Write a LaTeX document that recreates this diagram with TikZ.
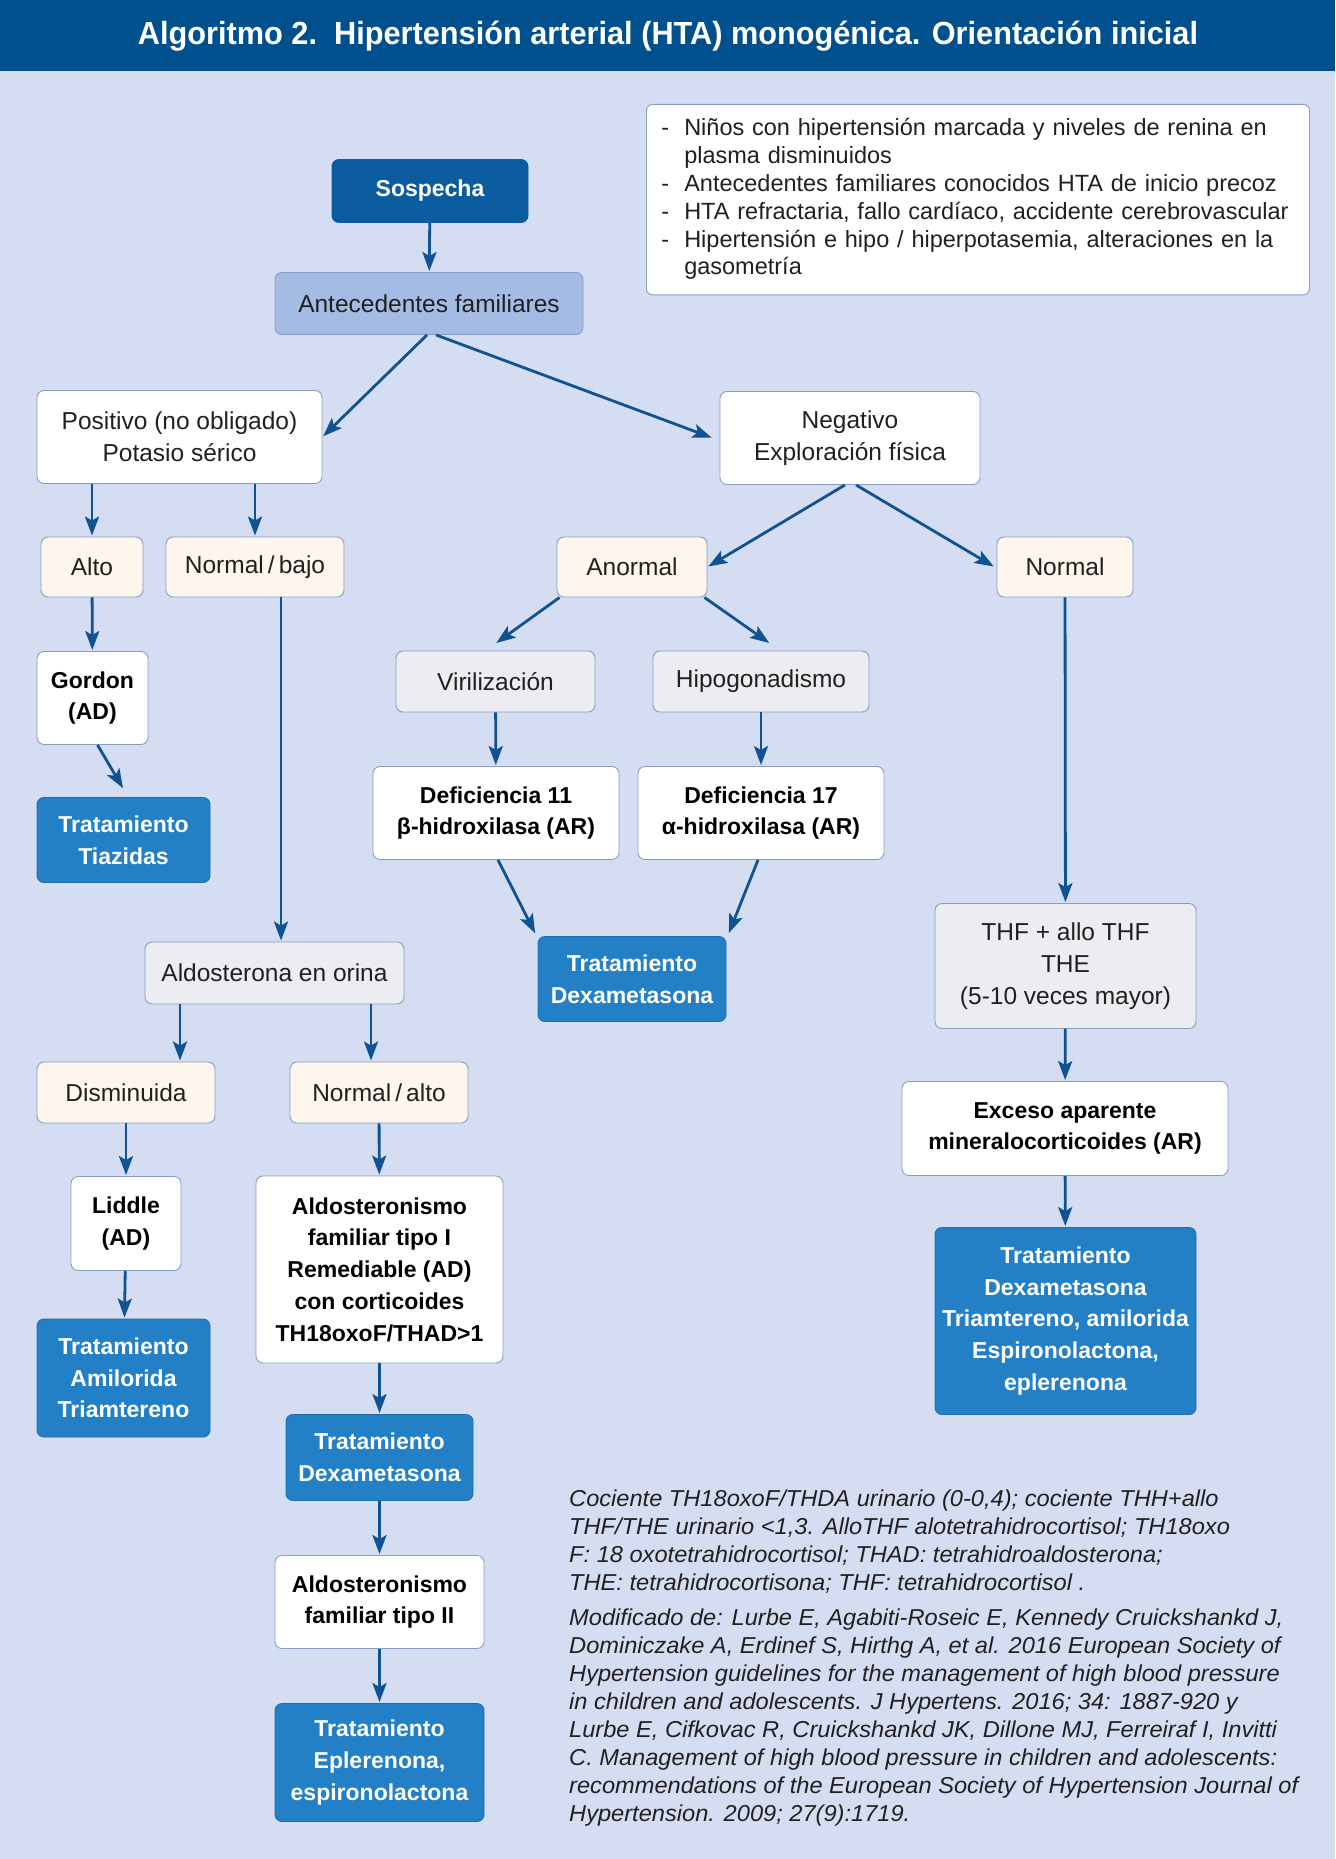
\documentclass[tikz,border=0pt]{standalone}
\usepackage{fontspec}
\setmainfont{Liberation Sans}
\usetikzlibrary{arrows.meta}
\definecolor{headc}{HTML}{00508E}
\definecolor{bgc}{HTML}{D4DDF1}
\definecolor{sospc}{HTML}{0B5C9E}
\definecolor{antc}{HTML}{A4BCE4}
\definecolor{treatc}{HTML}{2380C6}
\definecolor{creamc}{HTML}{FDF6EC}
\definecolor{greyc}{HTML}{ECEDF0}
\definecolor{bordc}{HTML}{8A9CC4}
\definecolor{arrc}{HTML}{0F5393}
\definecolor{txtc}{HTML}{231F20}
\tikzset{sz/.style 2 args={minimum width=#1pt,minimum height=#2pt}}

\begin{document}
\begin{tikzpicture}[x=1pt,y=-1pt,shorten >=1pt,
		box/.style={draw=bordc,line width=0.9pt,rounded corners=7pt,align=center,inner sep=0pt,
			text=txtc,font=\fontsize{24.5}{32}\selectfont},
		wbox/.style={box,fill=white},
		bbox/.style={box,fill=white,text=black,font=\fontsize{23}{31.7}\selectfont\bfseries},
		cream/.style={box,fill=creamc},
		grey/.style={box,fill=greyc},
		treat/.style={box,fill=treatc,draw=treatc!85!black,text=white,font=\fontsize{23}{31.7}\selectfont\bfseries},
		arr/.style={-{Stealth[length=19pt,width=14pt,inset=4pt]},draw=arrc,line width=2.8pt}]
	\useasboundingbox (0,0) rectangle (1335,1859);
	% background and title
	\fill[bgc] (0,71) rectangle (1335,1859);
	\fill[headc] (0,0) rectangle (1335,71);
	\node[text=white,inner sep=0pt] (n_title) at (668,36)
		{\resizebox{1060pt}{\height}{\fontsize{32}{32}\selectfont\bfseries Algoritmo 2.\ \ Hipertensión arterial (HTA) monogénica. Orientación inicial}};
	% criteria
	\node[wbox,anchor=north west,rounded corners=6pt,text width=633pt,align=left,inner xsep=15pt,inner ysep=11.5pt,
		font=\fontsize{23.5}{27.9}\selectfont] (n_info) at (646,104)
		{\begin{tabular}{@{}l@{\hspace{15pt}}l@{}}
			- & Niños con hipertensión marcada y niveles de renina en\\
			  & plasma disminuidos\\
			- & Antecedentes familiares conocidos HTA de inicio precoz\\
			- & HTA refractaria, fallo cardíaco, accidente cerebrovascular\\
			- & Hipertensión e hipo / hiperpotasemia, alteraciones en la\\
			  & gasometría
		\end{tabular}};
	% nodes
	\node[treat,sz={196}{63},fill=sospc,draw=sospc] (n_sosp) at (430,191) {Sospecha};
	\node[box,sz={308}{62},fill=antc] (n_ant) at (429,303.5) {Antecedentes familiares};
	\node[wbox,sz={285}{93}] (n_pos) at (179.5,437) {Positivo (no obligado)\\Potasio sérico};
	\node[wbox,sz={260}{93}] (n_neg) at (850,438) {Negativo\\Exploración física};
	\node[cream,sz={102}{60}] (n_alto) at (92,567) {Alto};
	\node[cream,sz={178}{60}] (n_nbajo) at (255,567) {Normal\,/\,bajo};
	\node[cream,sz={150}{60}] (n_anorm) at (632,567) {Anormal};
	\node[cream,sz={136}{60}] (n_normal) at (1065,567) {Normal};
	\node[bbox,sz={111}{93}] (n_gordon) at (92.5,698) {Gordon\\(AD)};
	\node[treat,sz={173}{85}] (n_tiaz) at (123.5,840) {Tratamiento\\Tiazidas};
	\node[grey,sz={199}{61}] (n_viril) at (495.5,681.5) {Virilización};
	\node[grey,sz={216}{61}] (n_hipo) at (761,681.5) {Hipogonadismo};
	\node[bbox,sz={246}{93}] (n_def11) at (496,813) {Deficiencia 11\\β-hidroxilasa (AR)};
	\node[bbox,sz={246}{93}] (n_def17) at (761,813) {Deficiencia 17\\α-hidroxilasa (AR)};
	\node[treat,sz={188}{85}] (n_dexa1) at (632,979) {Tratamiento\\Dexametasona};
	\node[grey,sz={259}{62}] (n_aldo) at (274.5,973) {Aldosterona en orina};
	\node[cream,sz={178}{61}] (n_dism) at (126,1092.5) {Disminuida};
	\node[cream,sz={178}{61}] (n_nalto) at (379,1092.5) {Normal\,/\,alto};
	\node[bbox,sz={110}{94}] (n_liddle) at (126,1223.5) {Liddle\\(AD)};
	\node[treat,sz={173}{118}] (n_amil) at (123.5,1378) {Tratamiento\\Amilorida\\Triamtereno};
	\node[bbox,sz={247}{187}] (n_fam1) at (379.5,1269.5)
		{Aldosteronismo\\familiar tipo I\\Remediable (AD)\\con corticoides\\TH18oxoF/THAD>1};
	\node[treat,sz={187}{86}] (n_dexa2) at (379.5,1457.5) {Tratamiento\\Dexametasona};
	\node[bbox,sz={209}{93}] (n_fam2) at (379.5,1602) {Aldosteronismo\\familiar tipo II};
	\node[treat,sz={209}{118}] (n_eple) at (379.5,1762.5) {Tratamiento\\Eplerenona,\\espironolactona};
	\node[grey,sz={261}{125}] (n_thf) at (1065.5,966) {THF + allo THF\\THE\\(5-10 veces mayor)};
	\node[bbox,sz={326}{94}] (n_exceso) at (1065,1128.5) {Exceso aparente\\mineralocorticoides (AR)};
	\node[treat,sz={261}{187}] (n_dexa3) at (1065.5,1321)
		{Tratamiento\\Dexametasona\\Triamtereno, amilorida\\Espironolactona,\\eplerenona};
	% notes
	\node[anchor=north west,inner sep=0pt,text=txtc] (n_nota) at (569,1487)
		{\resizebox{729pt}{\height}{\fontsize{23}{27.9}\selectfont\itshape
		\begin{tabular}{@{}l@{}}
			Cociente TH18oxoF/THDA urinario (0-0,4); cociente THH+allo\\
			THF/THE urinario <1,3. AlloTHF alotetrahidrocortisol; TH18oxo\\
			F: 18 oxotetrahidrocortisol; THAD: tetrahidroaldosterona;\\
			THE: tetrahidrocortisona; THF: tetrahidrocortisol .\\[7.6pt]
			Modificado de: Lurbe E, Agabiti-Roseic E, Kennedy Cruickshankd J,\\
			Dominiczake A, Erdinef S, Hirthg A, et al. 2016 European Society of\\
			Hypertension guidelines for the management of high blood pressure\\
			in children and adolescents. J Hypertens. 2016; 34: 1887-920 y\\
			Lurbe E, Cifkovac R, Cruickshankd JK, Dillone MJ, Ferreiraf I, Invitti\\
			C. Management of high blood pressure in children and adolescents:\\
			recommendations of the European Society of Hypertension Journal of\\
			Hypertension. 2009; 27(9):1719.
		\end{tabular}}};
	% connectors
	\draw[arr] (n_sosp) -- (n_ant);
	\draw[arr] ([xshift=-2pt]n_ant.south) -- (n_pos.east);
	\draw[arr] ([xshift=7pt]n_ant.south) -- ([xshift=-7pt]n_neg.west);
	\draw[arr] ([xshift=-87.5pt]n_pos.south) -- (n_alto);
	\draw[arr] ([xshift=75.5pt]n_pos.south) -- (n_nbajo);
	\draw[arr] ([xshift=-5pt]n_neg.south) -- (n_anorm.east);
	\draw[arr] ([xshift=6pt]n_neg.south) -- ([xshift=-2pt]n_normal.west);
	\draw[arr] (n_alto) -- (n_gordon);
	\draw[arr] ([xshift=5pt]n_gordon.south) -- ([yshift=8pt]n_tiaz.north);
	\draw[arr] ([xshift=3pt]n_anorm.south west) -- ([yshift=7pt]n_viril.north);
	\draw[arr] ([xshift=-3pt]n_anorm.south east) -- ([xshift=9pt,yshift=7pt]n_hipo.north);
	\draw[arr] (n_viril) -- (n_def11);
	\draw[arr] (n_hipo) -- (n_def17);
	\draw[arr] ([xshift=2pt]n_def11.south) -- ([xshift=-2pt,yshift=2pt]n_dexa1.north west);
	\draw[arr] ([xshift=-3pt]n_def17.south) -- ([xshift=2pt,yshift=2pt]n_dexa1.north east);
	\draw[arr] ([xshift=26pt]n_nbajo.south) -- ([xshift=6.5pt]n_aldo.north);
	\draw[arr] ([xshift=-94.5pt]n_aldo.south) -- ([xshift=54pt]n_dism.north);
	\draw[arr] ([xshift=96.5pt]n_aldo.south) -- ([xshift=-8pt]n_nalto.north);
	\draw[arr] (n_dism) -- (n_liddle);
	\draw[arr] (n_liddle) -- (n_amil);
	\draw[arr] (n_nalto) -- (n_fam1);
	\draw[arr] (n_fam1) -- (n_dexa2);
	\draw[arr] (n_dexa2) -- (n_fam2);
	\draw[arr] (n_fam2) -- (n_eple);
	\draw[arr] (n_normal) -- (n_thf);
	\draw[arr] (n_thf) -- (n_exceso);
	\draw[arr] (n_exceso) -- (n_dexa3);
\end{tikzpicture}
\end{document}
